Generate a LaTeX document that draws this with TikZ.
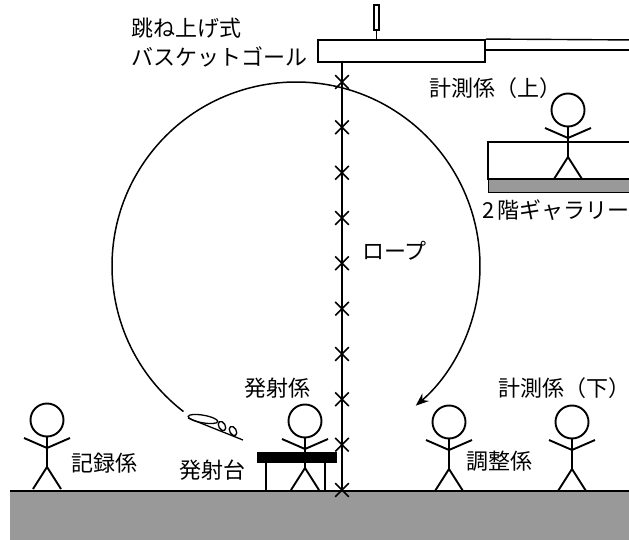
\documentclass[tikz,border=0pt]{standalone}
\usepackage{fontspec}
\newfontfamily\jp{Noto Sans CJK JP}
\usetikzlibrary{arrows.meta,shapes.misc}
\definecolor{floorgray}{HTML}{999999}
\begin{document}
\begin{tikzpicture}[x=1pt,y=-1pt,
  thick line/.style={line width=1.9pt},
  thin line/.style={line width=1.4pt},
  lbl/.style={font=\jp\fontsize{22}{24}\selectfont, inner sep=0pt, anchor=west,
              text height=19.4pt, text depth=2.6pt},
  mark x/.style={cross out, draw, line width=1.6pt, minimum size=12pt, inner sep=0pt},
  flight/.style={line width=1.5pt, -{Stealth[length=13pt,width=10pt]}},
  person/.pic={
    \draw[thick line] (0,0) circle[radius=16.5];
    \draw[thick line] (0,16.5) -- (0,47);
    \draw[thick line] (-23,18) -- (0,28) -- (23,18);
    \draw[thick line] (-14,69) -- (0,47) -- (14,69);
  }]
\useasboundingbox (0,0) rectangle (629,540);

% floor
\fill[floorgray] (10,491) rectangle (640,545);
\draw[thick line] (10,491) -- (640,491);

% second-floor gallery
\draw[thin line] (488,142) rectangle (640,179);
\filldraw[fill=floorgray, draw=black, line width=1pt] (488,179) rectangle (640,193);
\draw[thick line] (488,179) -- (640,179);

% tip-up basketball goal
\node[draw, thick line, minimum width=167pt, minimum height=22pt, inner sep=0pt]
  (board) at (401.5,51) {};
\node[draw, line width=1.2pt, minimum width=5pt, minimum height=25pt, inner sep=0pt]
  (post) at (376.5,17.5) {};
\draw[thin line] (post.south) -- (post.south |- board.north);
\draw[thin line] (board.north east) -- (640,40);
\draw[thin line] (board.east |- 0,50) -- (640,50);

% rope with marks
\coordinate (ropetop) at (342,62);
\coordinate (ropebot) at (342,491);
\draw[thick line] (ropetop) -- (ropebot);
\foreach \k in {0,...,9}
  \node[mark x] (m\k) at (342,{82+45.33*\k}) {};

% flight path
\coordinate (c) at (296,266);
\draw[flight] ([shift={(127.7:184)}]c) arc[start angle=127.7, end angle=409.4, radius=184];

% paper glider
\begin{scope}[line width=1.3pt]
  \draw (188,418) -- (243,440);
  \draw[rotate around={-10:(203,419)}] (203,419) ellipse[x radius=15, y radius=3.8];
  \draw[rotate around={-60:(222,426)}] (222,426) ellipse[x radius=5, y radius=3.2];
  \draw[rotate around={-60:(233,431)}] (233,431) ellipse[x radius=5, y radius=3.2];
\end{scope}

% people
\pic at (47,420) {person};
\pic at (305,421) {person};
\pic at (449,422) {person};
\pic at (572,422) {person};
\pic at (568,110) {person};

% launch stand
\node[fill=black, minimum width=80pt, minimum height=11pt, inner sep=0pt]
  (stand) at (297,457.5) {};
\draw[thick line] (266,463) -- (266,491);
\draw[thick line] (325,463) -- (325,491);

% labels
\node[lbl] (goal1) at (131,28.5) {跳ね上げ式};
\node[lbl] (goal2) at (131,57) {バスケットゴール};
\node[lbl] (upper) at (429,88) {計測係（上）};
\node[lbl] (gallery) at (482,210) {2\hspace{3pt}階ギャラリー};
\node[lbl] (rope) at (362,251) {ロープ};
\node[lbl] (launcher) at (244,388) {発射係};
\node[lbl] (standlbl) at (179,470) {発射台};
\node[lbl] (recorder) at (71,463) {記録係};
\node[lbl] (adjuster) at (466,461) {調整係};
\node[lbl] (lower) at (498,388) {計測係（下）\kern-4pt};
\end{tikzpicture}
\end{document}
